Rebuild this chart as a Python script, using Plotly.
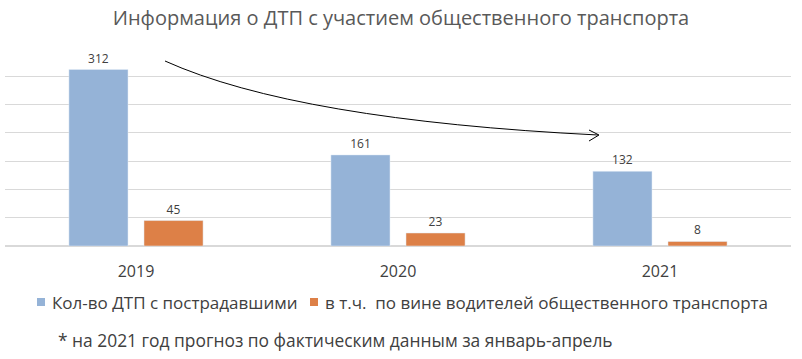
import plotly.graph_objects as go

years = ["2019", "2020", "2021"]
dtp_total = [312, 161, 132]
dtp_drivers = [45, 23, 8]
series_names = ["Кол-во ДТП с пострадавшими", "в т.ч.  по вине водителей общественного транспорта"]
colors = ["#95B3D7", "#DD8047"]
title_text = "Информация о ДТП с участием общественного транспорта"
footnote = "* на 2021 год прогноз по фактическим данным за январь-апрель"

FONT = "Open Sans"
fig = go.Figure()
for vals, name, col in [(dtp_total, series_names[0], colors[0]), (dtp_drivers, series_names[1], colors[1])]:
    fig.add_trace(go.Bar(x=years, y=vals, name=name, marker_color=col,
                         text=vals, textposition="outside",
                         textfont=dict(size=12, color="#404040", family=FONT), cliponaxis=False))

W, H = 802, 359
l, r, t, b = 5, 11, 48, 113
pw, ph = W - l - r, H - t - b

def px(x):
    return (x - l) / pw

def py(y):
    return (H - b - y) / ph

# curved arrow (decoration) in paper coords
x0, y0 = 165, 61
cx, cy = 296, 120
x1, y1 = 598, 135
path = f"M {px(x0)},{py(y0)} Q {px(cx)},{py(cy)} {px(x1)},{py(y1)}"
head = f"M {px(589)},{py(130)} L {px(x1+1)},{py(y1)} L {px(589)},{py(141)}"
fig.add_shape(type="path", path=path, xref="paper", yref="paper", line=dict(color="#000000", width=1))
fig.add_shape(type="path", path=head, xref="paper", yref="paper", line=dict(color="#000000", width=1))

# custom legend
leg_y = 302
leg_items = [(37, 50, series_names[0], colors[0]), (310, 323, series_names[1], colors[1])]
for sx, tx, name, col in leg_items:
    fig.add_shape(type="rect", xref="paper", yref="paper",
                  x0=px(sx), x1=px(sx + 8), y0=py(leg_y - 4), y1=py(leg_y + 4),
                  fillcolor=col, line=dict(width=0))
    fig.add_annotation(text=name, xref="paper", yref="paper", x=px(tx), y=py(leg_y),
                       showarrow=False, xanchor="left", yanchor="middle",
                       font=dict(size=17, color="#404040", family=FONT))

fig.add_annotation(text=footnote, xref="paper", yref="paper", x=px(335), y=py(340),
                   showarrow=False, font=dict(size=17.4, color="#404040", family=FONT),
                   xanchor="center", yanchor="middle")

fig.update_layout(
    width=W, height=H,
    margin=dict(l=l, r=r, t=t, b=b, autoexpand=False),
    paper_bgcolor="white", plot_bgcolor="white",
    title=dict(text=title_text, x=0.5, xanchor="center", y=1 - 18 / H, yanchor="middle",
               font=dict(size=20, color="#595959", family=FONT)),
    barmode="group", bargap=0.427, bargroupgap=0.213,
    showlegend=False,
    xaxis=dict(showline=False, ticks="", ticklabelstandoff=14,
               tickfont=dict(size=16, color="#404040", family=FONT)),
    yaxis=dict(range=[0, 350], dtick=50, showticklabels=False, gridcolor="#D9D9D9",
               zeroline=True, zerolinecolor="#D9D9D9", showline=False, ticks=""),
    font=dict(family=FONT),
)

fig.write_html("out.html", config={"displayModeBar": False},
               post_script="document.body.style.margin='0';")
